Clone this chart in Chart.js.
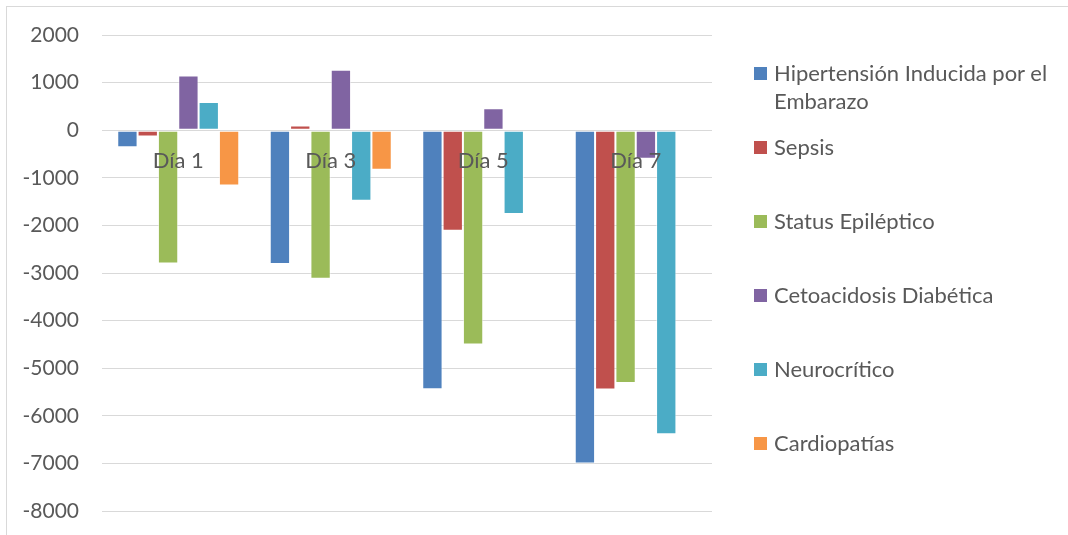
<!DOCTYPE html>
<html>
<head>
<meta charset="utf-8">
<script src="https://cdn.jsdelivr.net/npm/chart.js@4/dist/chart.umd.min.js"></script>
<style>
  html, body { margin: 0; padding: 0; background: #fff; }
  #wrap { position: relative; width: 1068px; height: 535px; overflow: hidden; }
  #frame { position: absolute; left: 6px; top: 6px; right: -2px; bottom: -2px;
           border-left: 1px solid #d9d9d9; border-top: 1px solid #d9d9d9; pointer-events: none; }
  canvas { position: absolute; left: 0; top: 0; }
  #legend { position: absolute; left: 754px; top: 59px; margin: 0; padding: 0; list-style: none;
            font-family: Lato, "Open Sans", sans-serif; font-size: 22px; color: #595959; }
  #legend li { position: absolute; left: 0; width: 310px; line-height: 28px; }
  #legend .box { position: absolute; left: 0; top: 8px; width: 13px; height: 13px; }
  #legend .txt { display: block; margin-left: 20px; white-space: nowrap; }
</style>
</head>
<body>
<div id="wrap">
  <canvas id="chart" width="1068" height="535"></canvas>
  <div id="frame"></div>
  <ul id="legend"></ul>
</div>
<script>
// Días de estancia
const categories = ['Día 1', 'Día 3', 'Día 5', 'Día 7'];

// Series por diagnóstico
const hipertension = [-360, -2810, -5440, -7000];
const sepsis = [-130, 100, -2110, -5450];
const statusEpileptico = [-2800, -3120, -4500, -5310];
const cetoacidosis = [1150, 1270, 460, -600];
const neurocritico = [590, -1480, -1760, -6390];
const cardiopatias = [-1160, -830, null, null];

const seriesNames = [
  'Hipertensión Inducida por el Embarazo',
  'Sepsis',
  'Status Epiléptico',
  'Cetoacidosis Diabética',
  'Neurocrítico',
  'Cardiopatías'
];
const seriesValues = [hipertension, sepsis, statusEpileptico, cetoacidosis, neurocritico, cardiopatias];
const seriesColors = ['#4F81BD', '#C0504D', '#9BBB59', '#8064A2', '#4BACC6', '#F79646'];

// Eje vertical
const yMin = -8000;
const yMax = 2000;
const yStep = 1000;

const textColor = '#595959';
const fontFamily = 'Lato, "Open Sans", sans-serif';

const datasets = seriesNames.map((name, i) => ({
  label: name,
  data: seriesValues[i],
  backgroundColor: seriesColors[i],
  borderColor: 'rgba(255,255,255,0.55)',
  borderWidth: 1,
  borderSkipped: false,
  categoryPercentage: 0.8,
  barPercentage: 1.0
}));

new Chart(document.getElementById('chart'), {
  type: 'bar',
  data: { labels: categories, datasets },
  options: {
    responsive: false,
    animation: false,
    devicePixelRatio: 1,
    layout: { padding: { top: 35, bottom: 24, right: 356, left: 0 } },
    plugins: {
      legend: { display: false },
      tooltip: { enabled: false }
    },
    scales: {
      x: {
        position: { y: 0 },
        grid: { display: false, drawTicks: false },
        border: { display: false },
        ticks: {
          z: 1, // etiquetas por encima de las barras
          color: textColor,
          padding: 18,
          font: { family: fontFamily, size: 22 }
        },
        // las etiquetas de categoría van sobre la línea del cero, sin reservar espacio abajo
        afterFit(scale) { scale.height = 0; }
      },
      y: {
        min: yMin,
        max: yMax,
        grid: { color: '#D9D9D9', lineWidth: 1, drawTicks: false },
        border: { display: false },
        ticks: {
          stepSize: yStep,
          color: textColor,
          padding: 23,
          font: { family: fontFamily, size: 21 },
          callback: (v) => String(v)
        },
        afterFit(scale) {
          scale.width = 102;
          scale.paddingTop = 0;
          scale.paddingBottom = 0;
        }
      }
    }
  }
});

// Leyenda a la derecha
const legendEl = document.getElementById('legend');
const legendLines = [
  ['Hipertensión Inducida por el', 'Embarazo'],
  ['Sepsis'], ['Status Epiléptico'], ['Cetoacidosis Diabética'], ['Neurocrítico'], ['Cardiopatías']
];
legendLines.forEach((lines, i) => {
  const li = document.createElement('li');
  li.style.top = (i * 74) + 'px';
  const box = document.createElement('span');
  box.className = 'box';
  box.style.background = seriesColors[i];
  const txt = document.createElement('span');
  txt.className = 'txt';
  txt.innerHTML = lines.join('<br>');
  li.appendChild(box);
  li.appendChild(txt);
  legendEl.appendChild(li);
});
</script>
</body>
</html>
